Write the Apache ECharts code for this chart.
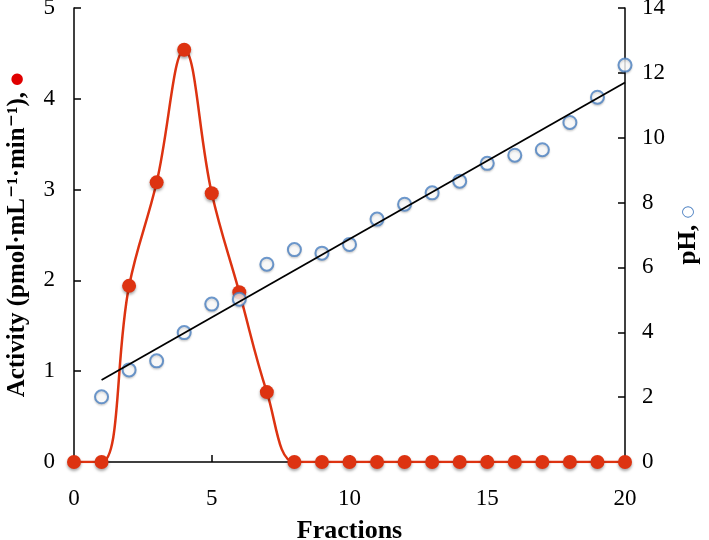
<!DOCTYPE html>
<html>
<head>
<meta charset="utf-8">
<script src="https://cdn.jsdelivr.net/npm/echarts@6/dist/echarts.min.js"></script>
<style>html,body{margin:0;padding:0;background:#fff;}#c{width:709px;height:540px;}</style>
</head>
<body>
<div id="c"></div>
<script>
var fractions = [0,1,2,3,4,5,6,7,8,9,10,11,12,13,14,15,16,17,18,19,20];
var activity = [0,0,1.94,3.08,4.54,2.96,1.87,0.77,0,0,0,0,0,0,0,0,0,0,0,0,0];
var phFractions = [1,2,3,4,5,6,7,8,9,10,11,12,13,14,15,16,17,18,19,20];
var ph = [2.01,2.84,3.12,3.99,4.87,5.02,6.1,6.55,6.44,6.71,7.49,7.95,8.3,8.66,9.21,9.46,9.63,10.47,11.25,12.24];
var trendX = [1,20];
var trendY = [2.53,11.7];
var xTicks = [0,5,10,15,20];

var FONT = '"Liberation Serif", "DejaVu Serif", serif';
var chart = echarts.init(document.getElementById('c'), null, {renderer:'canvas'});
var axisCommon = {
  axisLine:{show:true, lineStyle:{color:'#000', width:1.5}},
  axisTick:{show:true, inside:true, length:7, lineStyle:{color:'#000', width:1.5}},
  splitLine:{show:false}
};
chart.setOption({
  animation:false,
  backgroundColor:'#fff',
  grid:{left:74, right:84, top:8, bottom:78, containLabel:false, outerBoundsMode:'none'},
  xAxis: Object.assign({}, axisCommon, {
    type:'value', min:xTicks[0], max:xTicks[xTicks.length-1], interval:5,
    name:'Fractions', nameLocation:'middle', nameGap:56,
    nameTextStyle:{color:'#000', fontFamily:FONT, fontSize:26, fontWeight:'bold'},
    axisLabel:{color:'#000', fontFamily:FONT, fontSize:23, margin:25}
  }),
  yAxis: [
    Object.assign({}, axisCommon, {
      type:'value', min:0, max:5, interval:1, position:'left',
      axisLabel:{color:'#000', fontFamily:FONT, fontSize:23, margin:19},
      name:'{t|Activity (pmol·mL⁻¹·min⁻¹), }{d|●}', nameLocation:'middle', nameRotate:90, nameGap:44,
      nameTextStyle:{rich:{
        t:{color:'#000', fontFamily:FONT, fontSize:25, fontWeight:'bold'},
        d:{color:'#e00000', fontSize:15, fontFamily:'"DejaVu Sans", sans-serif'}
      }}
    }),
    Object.assign({}, axisCommon, {
      type:'value', min:0, max:14, interval:2, position:'right',
      axisLabel:{color:'#000', fontFamily:FONT, fontSize:23, margin:17},
      name:'{t|pH, }{d|○}', nameLocation:'middle', nameRotate:90, nameGap:50,
      nameTextStyle:{rich:{
        t:{color:'#000', fontFamily:FONT, fontSize:25, fontWeight:'bold'},
        d:{color:'#4a7fc1', fontSize:15, fontFamily:'"DejaVu Sans", sans-serif'}
      }}
    })
  ],
  series:[
    {
      type:'line', yAxisIndex:0, smooth:0.4, smoothMonotone:'none',
      data: fractions.map(function(x,i){return [x, activity[i]];}),
      symbol:'circle', symbolSize:14,
      lineStyle:{color:'#dd3311', width:2.5},
      itemStyle:{color:'#dd3311', shadowBlur:3, shadowColor:'rgba(0,0,0,0.35)', shadowOffsetY:2},
      z:2
    },
    {
      type:'scatter', yAxisIndex:1,
      data: phFractions.map(function(x,i){return [x, ph[i]];}),
      symbol:'circle', symbolSize:13,
      itemStyle:{color:'#fff', borderColor:'#4a7fc1', borderWidth:2, shadowBlur:2, shadowColor:'rgba(0,0,0,0.18)', shadowOffsetY:1.5},
      z:3
    },
    {
      type:'line', yAxisIndex:1,
      data: trendX.map(function(x,i){return [x, trendY[i]];}),
      symbol:'none', lineStyle:{color:'#000', width:1.8},
      z:4
    }
  ]
});
</script>
</body>
</html>
